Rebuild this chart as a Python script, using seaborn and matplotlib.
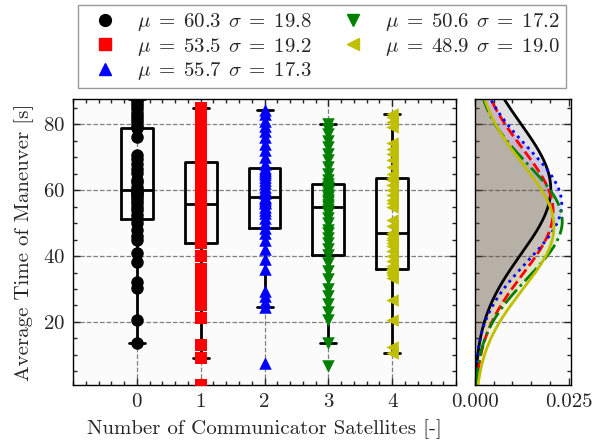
import numpy as np
import pandas as pd
import matplotlib.pyplot as plt
import seaborn as sns
from matplotlib.lines import Line2D
from matplotlib.ticker import MultipleLocator, FormatStrFormatter

# number of communicator satellites (categories)
sats = [0, 1, 2, 3, 4]

# average time of maneuver [s]
t0 = [13.6, 20.6, 30.3, 32.1, 38.2, 40.9, 44.8, 46, 48, 50, 51.2,
      52.5, 54, 55, 56, 57, 58, 58.5, 59, 59.5, 60,
      61, 62.5, 63, 65.2, 66.5, 68, 69.5, 70.6, 76, 78.9,
      79.5, 80.5, 81.5, 82.5, 83.5, 84.5, 85.5, 86.5, 87.2, 87.6]
t1 = [0.9, 9.0, 13, 21.2, 25, 27.5, 30, 33, 36, 40, 44.0,
      45, 46.5, 48, 49.5, 51, 52, 53, 54, 55, 55.7,
      57, 58.5, 60, 61.5, 63, 64.5, 66, 67, 68, 68.6,
      70, 72, 74.2, 76, 78, 80, 81.2, 82.6, 84, 84.8]
t2 = [7.5, 24.6, 26, 28, 29.5, 36, 39, 42, 45, 47, 48.6,
      50, 51.5, 53, 54, 55, 56, 56.5, 57, 57.5, 58,
      59, 60, 61, 62, 63, 64, 65, 65.5, 66, 66.8,
      68, 70, 72, 74, 76, 78, 79.5, 81, 83, 84.2]
t3 = [6.8, 13.5, 20.6, 23, 25.5, 28, 30, 33, 35.5, 38, 40.3,
      42, 44, 45.5, 47, 48, 50, 51.5, 53, 54, 54.8,
      55.5, 56.5, 57, 58, 58.5, 59.5, 60, 60.5, 61, 61.8,
      63, 65, 67, 69, 71, 73, 75, 77, 78.5, 79.9]
t4 = [10.5, 12.4, 20.6, 26.7, 33.3, 34.2, 34.8, 35.3, 35.7, 36.0, 36.1,
      37, 38.5, 40, 41.5, 43, 44, 44.8, 45.5, 46.5, 47.1,
      49, 50.9, 54.8, 56, 57, 58.5, 60, 61.5, 63, 63.8,
      65, 67, 69, 71, 72.5, 74.2, 79, 80.5, 82, 83.0]
times = [t0, t1, t2, t3, t4]

# fitted normal parameters shown in the legend
mu = [60.3, 53.5, 55.7, 50.6, 48.9]
sigma = [19.8, 19.2, 17.3, 17.2, 19.0]

colors = ['k', 'r', 'b', 'g', 'y']
markers = ['o', 's', '^', 'v', '<']
styles = ['-', '--', ':', '-.', '-']

df = pd.DataFrame({'sats': np.repeat(sats, [len(t) for t in times]),
                   'time': np.concatenate(times)})

sns.set_style('ticks')
plt.rcParams['font.family'] = 'cmr10'
plt.rcParams['mathtext.fontset'] = 'cm'
plt.rcParams['axes.formatter.use_mathtext'] = True
plt.rcParams['font.size'] = 15

fig = plt.figure(figsize=(6.01, 4.42), dpi=100)
ax = fig.add_axes([0.1215, 0.129, 0.6373, 0.647])
axr = fig.add_axes([0.790, 0.129, 0.160, 0.647], sharey=ax)

sns.boxplot(data=df, x='sats', y='time', order=sats, ax=ax, fill=False,
            color='k', linewidth=2, width=0.5, showfliers=False, whis=1.5)
for i in sats:
    sns.stripplot(data=df[df.sats == i], x='sats', y='time', order=sats,
                  jitter=False, color=colors[i], marker=markers[i], size=9,
                  linewidth=0, ax=ax, zorder=3)

ax.set_xlim(-1, 5)
ax.set_ylim(0.9, 87.6)
ax.set_xlabel('Number of Communicator Satellites [-]', fontsize=15, labelpad=6)
ax.set_ylabel('Average Time of Maneuver [s]', fontsize=15, labelpad=6)

# side panel: normal pdfs
y = np.linspace(0.9, 87.6, 400)
for m, s, c, st in zip(mu, sigma, colors, styles):
    pdf = np.exp(-0.5 * ((y - m) / s) ** 2) / (s * np.sqrt(2 * np.pi))
    axr.fill_betweenx(y, 0, pdf, color=c, alpha=0.1, lw=0)
    axr.plot(pdf, y, color=c, ls=st, lw=2)
axr.set_xlim(0, 0.0255)
axr.set_xticks([0, 0.025])
axr.xaxis.set_major_formatter(FormatStrFormatter('%.3f'))
axr.xaxis.set_minor_locator(MultipleLocator(0.005))

for a in (ax, axr):
    a.set_facecolor('#fbfbfb')
    a.yaxis.set_major_locator(MultipleLocator(20))
    a.yaxis.set_minor_locator(MultipleLocator(5))
    a.tick_params(which='both', direction='in', top=True, right=True,
                  width=1, labelsize=15, pad=6)
    a.tick_params(which='major', length=5)
    a.tick_params(which='minor', length=3)
    for sp in a.spines.values():
        sp.set_linewidth(1.0)
        sp.set_color('k')
ax.xaxis.set_minor_locator(MultipleLocator(0.2))
ax.grid(True, which='major', ls='--', color='gray', lw=0.9)
axr.grid(True, axis='y', which='major', ls='--', color='gray', lw=0.9)
axr.grid(False, axis='x')
axr.tick_params(labelleft=False)

handles = [Line2D([], [], color=c, marker=mk, ls='', ms=8.5)
           for c, mk in zip(colors, markers)]
labels = [rf'$\mu\;=\;{m}\;\,\sigma\;=\;{s}$' for m, s in zip(mu, sigma)]
fig.legend(handles, labels, ncol=2, loc='upper center',
           bbox_to_anchor=(0.536, 0.989), borderaxespad=0, fancybox=False,
           edgecolor='gray', fontsize=15, columnspacing=1.0,
           labelspacing=0.12, handletextpad=0.5, borderpad=0.3)

fig.savefig('out.png', dpi=100)
